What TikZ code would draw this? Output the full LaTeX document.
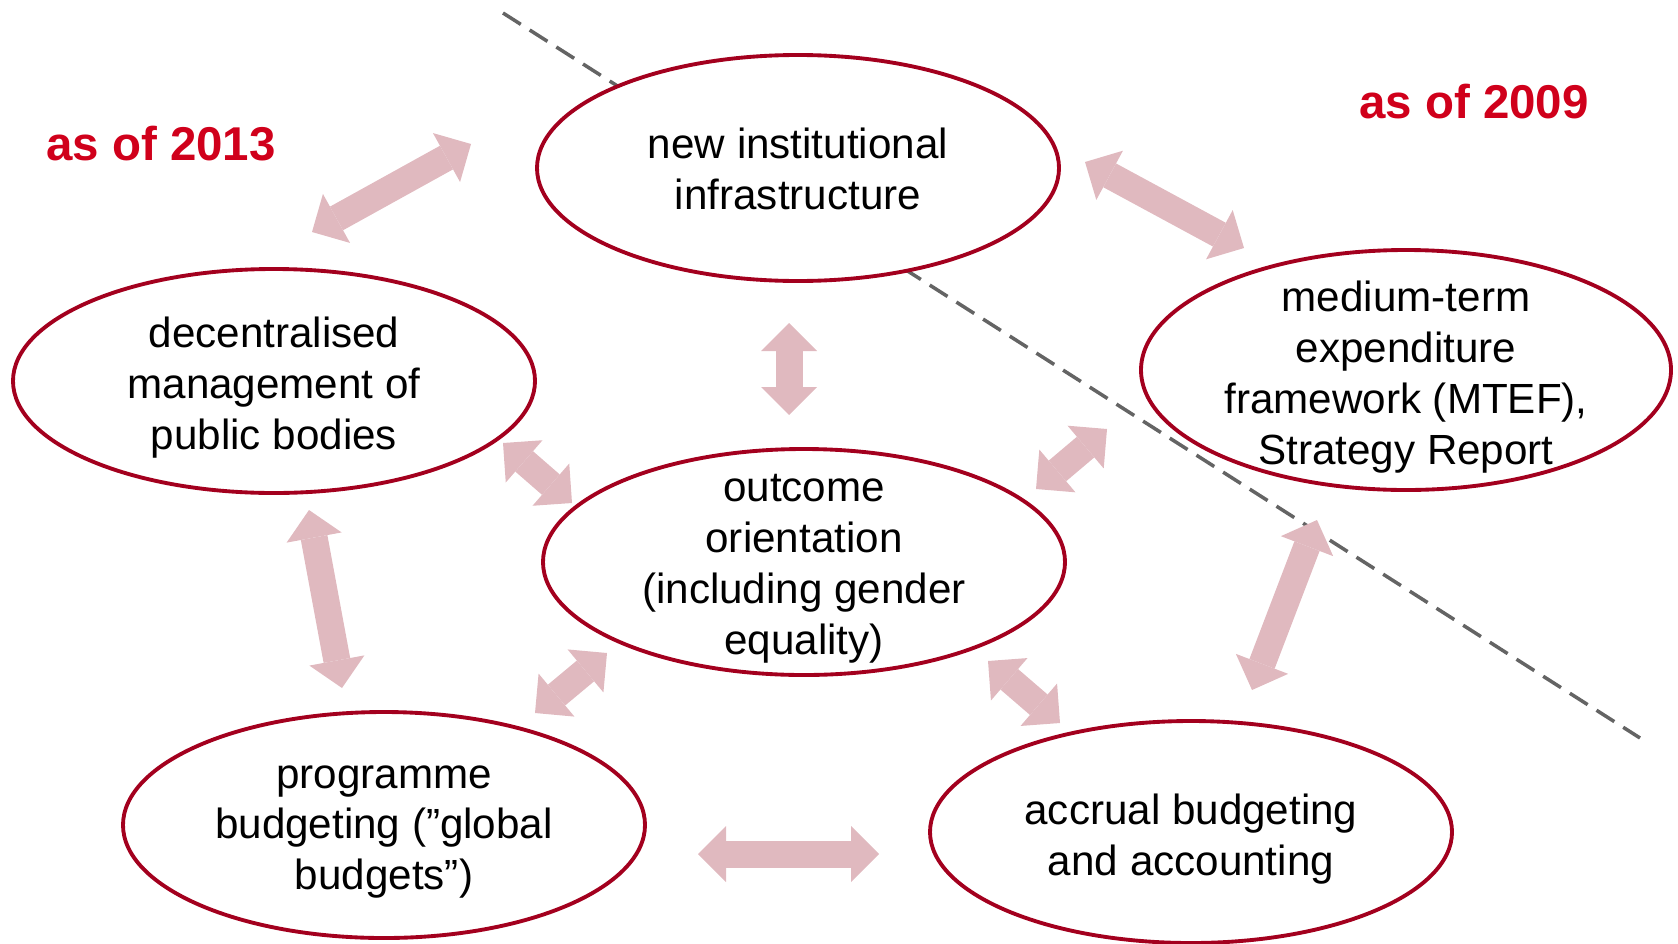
\documentclass[tikz,border=0pt]{standalone}
\usepackage{fontspec}
\setmainfont{Liberation Sans}
\usetikzlibrary{shapes.geometric, arrows.meta}
\definecolor{ringred}{RGB}{163,0,30}
\definecolor{linkpink}{RGB}{224,185,191}
\definecolor{yearred}{RGB}{208,0,27}
\definecolor{cutgray}{RGB}{100,100,100}

\begin{document}
\begin{tikzpicture}[
  topic/.style={ellipse, draw=ringred, line width=1.1pt, fill=white, inner sep=0pt},
  topictext/.style={align=center, yshift=-0.07cm, font=\fontsize{12pt}{14.5pt}\selectfont},
  link/.style={linkpink, line width=0.27cm,
    >={Triangle[length=0.28cm, width=0.56cm, line width=0pt]}, <->},
  year/.style={yearred, font=\bfseries\fontsize{13.5pt}{16pt}\selectfont},
  cut/.style={cutgray, line width=1pt, dash pattern=on 6pt off 3pt}
]
  % \draw[help lines] (0,0) grid (17, 10);
  \useasboundingbox (0, 0) rectangle (16.78, 9.43);

  % line between the two reform steps
  \coordinate (cut-top) at (5.03, 9.30);
  \coordinate (cut-end) at (16.40, 2.05);
  \draw[cut] (cut-top) -- (cut-end);

  \node at (1.61, 7.99) [year] (y2013) {as of 2013};
  \node at (14.74, 8.41) [year] (y2009) {as of 2009};

  \node at (7.98, 7.75) [topic, minimum width=5.22cm, minimum height=2.26cm] (infra) {};
  \node at (2.74, 5.62) [topic, minimum width=5.22cm, minimum height=2.24cm] (decent) {};
  \node at (14.06, 5.73) [topic, minimum width=5.30cm, minimum height=2.40cm] (mtef) {};
  \node at (8.04, 3.81) [topic, minimum width=5.22cm, minimum height=2.26cm] (outcome) {};
  \node at (3.84, 1.18) [topic, minimum width=5.22cm, minimum height=2.26cm] (prog) {};
  \node at (11.91, 1.11) [topic, minimum width=5.22cm, minimum height=2.22cm] (accrual) {};

  \node at (infra) [topictext, yshift=0.06cm] (infra-txt) {new institutional\\infrastructure};
  \node at (decent) [topictext] (decent-txt) {decentralised\\management of\\public bodies};
  \node at (mtef) [topictext] (mtef-txt) {medium-term\\expenditure\\framework (MTEF),\\Strategy Report};
  \node at (outcome) [topictext] (outcome-txt) {outcome\\orientation\\(including gender\\equality)};
  \node at (prog) [topictext] (prog-txt) {programme\\budgeting (”global\\budgets”)};
  \node at (accrual) [topictext] (accrual-txt) {accrual budgeting\\and accounting};

  % ends of the block arrows
  \coordinate (decent-infra) at (3.12, 7.11);
  \coordinate (infra-decent) at (4.71, 7.99);
  \coordinate (infra-mtef) at (10.85, 7.81);
  \coordinate (mtef-infra) at (12.44, 6.95);
  \coordinate (infra-outcome) at (7.89, 6.20);
  \coordinate (outcome-infra) at (7.89, 5.28);
  \coordinate (decent-outcome) at (5.03, 5.00);
  \coordinate (outcome-decent) at (5.72, 4.40);
  \coordinate (mtef-outcome) at (11.07, 5.14);
  \coordinate (outcome-mtef) at (10.36, 4.54);
  \coordinate (decent-prog) at (3.09, 4.33);
  \coordinate (prog-decent) at (3.42, 2.55);
  \coordinate (mtef-accrual) at (13.17, 4.23);
  \coordinate (accrual-mtef) at (12.52, 2.53);
  \coordinate (outcome-prog) at (6.07, 2.90);
  \coordinate (prog-outcome) at (5.35, 2.30);
  \coordinate (outcome-accrual) at (9.88, 2.82);
  \coordinate (accrual-outcome) at (10.60, 2.20);
  \coordinate (prog-accrual) at (6.98, 0.89);
  \coordinate (accrual-prog) at (8.79, 0.89);

  \draw[link] (decent-infra) -- (infra-decent);
  \draw[link] (infra-mtef) -- (mtef-infra);
  \draw[link] (infra-outcome) -- (outcome-infra);
  \draw[link] (decent-outcome) -- (outcome-decent);
  \draw[link] (mtef-outcome) -- (outcome-mtef);
  \draw[link] (decent-prog) -- (prog-decent);
  \draw[link] (mtef-accrual) -- (accrual-mtef);
  \draw[link] (outcome-prog) -- (prog-outcome);
  \draw[link] (outcome-accrual) -- (accrual-outcome);
  \draw[link] (prog-accrual) -- (accrual-prog);
\end{tikzpicture}
\end{document}
